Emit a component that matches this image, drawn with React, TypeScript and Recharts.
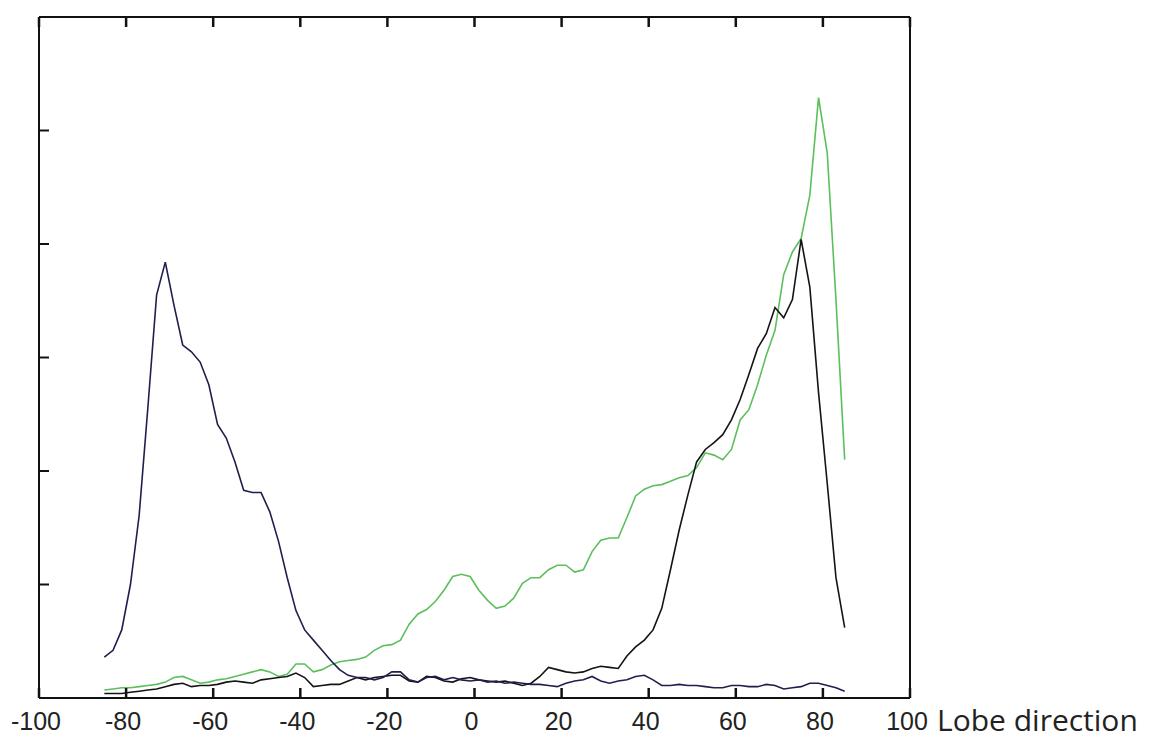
import { Line, LineChart, XAxis, YAxis } from "recharts";

// angle of the lobe, degrees
const angles = [
  -85, -83, -81, -79, -77, -75, -73, -71, -69, -67,
  -65, -63, -61, -59, -57, -55, -53, -51, -49, -47,
  -45, -43, -41, -39, -37, -35, -33, -31, -29, -27,
  -25, -23, -21, -19, -17, -15, -13, -11, -9, -7,
  -5, -3, -1, 1, 3, 5, 7, 9, 11, 13,
  15, 17, 19, 21, 23, 25, 27, 29, 31, 33,
  35, 37, 39, 41, 43, 45, 47, 49, 51, 53,
  55, 57, 59, 61, 63, 65, 67, 69, 71, 73,
  75, 77, 79, 81, 83, 85,
];

const navySeries = [
  0.36, 0.42, 0.6, 1.0, 1.61, 2.56, 3.55, 3.84, 3.46, 3.11,
  3.05, 2.96, 2.76, 2.41, 2.29, 2.08, 1.83, 1.81, 1.81, 1.64,
  1.38, 1.06, 0.77, 0.6, 0.51, 0.42, 0.33, 0.25, 0.2, 0.18,
  0.18, 0.16, 0.18, 0.23, 0.23, 0.16, 0.14, 0.18, 0.19, 0.16,
  0.18, 0.16, 0.15, 0.16, 0.14, 0.15, 0.13, 0.14, 0.13, 0.12,
  0.12, 0.11, 0.1, 0.13, 0.15, 0.16, 0.19, 0.15, 0.13, 0.15,
  0.16, 0.19, 0.2, 0.16, 0.11, 0.11, 0.12, 0.11, 0.11, 0.1,
  0.09, 0.09, 0.11, 0.11, 0.1, 0.1, 0.12, 0.11, 0.08, 0.09,
  0.1, 0.13, 0.13, 0.11, 0.09, 0.06,
];

const blackSeries = [
  0.04, 0.04, 0.04, 0.05, 0.06, 0.07, 0.08, 0.1, 0.12, 0.13,
  0.1, 0.11, 0.11, 0.12, 0.14, 0.15, 0.14, 0.13, 0.16, 0.17,
  0.18, 0.19, 0.22, 0.18, 0.1, 0.11, 0.12, 0.12, 0.15, 0.18,
  0.16, 0.18, 0.19, 0.2, 0.2, 0.15, 0.14, 0.19, 0.18, 0.15,
  0.14, 0.17, 0.18, 0.16, 0.15, 0.14, 0.15, 0.13, 0.11, 0.13,
  0.19, 0.27, 0.25, 0.23, 0.22, 0.23, 0.26, 0.28, 0.27, 0.26,
  0.37, 0.45, 0.51, 0.6, 0.79, 1.13, 1.48, 1.79, 2.08, 2.19,
  2.25, 2.32, 2.45, 2.63, 2.85, 3.08, 3.21, 3.44, 3.35, 3.51,
  4.04, 3.62, 2.69, 1.89, 1.06, 0.62,
];

const greenSeries = [
  0.07, 0.08, 0.09, 0.09, 0.1, 0.11, 0.12, 0.14, 0.18, 0.19,
  0.16, 0.13, 0.14, 0.16, 0.17, 0.19, 0.21, 0.23, 0.25, 0.23,
  0.19, 0.21, 0.3, 0.3, 0.23, 0.25, 0.29, 0.32, 0.33, 0.34,
  0.36, 0.42, 0.46, 0.47, 0.51, 0.65, 0.74, 0.78, 0.85, 0.95,
  1.07, 1.09, 1.07, 0.95, 0.86, 0.79, 0.81, 0.88, 1.01, 1.06,
  1.06, 1.13, 1.17, 1.17, 1.11, 1.13, 1.29, 1.39, 1.41, 1.41,
  1.59, 1.78, 1.84, 1.87, 1.88, 1.91, 1.94, 1.96, 2.03, 2.16,
  2.14, 2.1, 2.19, 2.45, 2.54, 2.76, 3.02, 3.24, 3.73, 3.93,
  4.05, 4.43, 5.29, 4.8, 3.51, 2.1,
];

const xTicks = [-100, -80, -60, -40, -20, 0, 20, 40, 60, 80, 100];
const yTicks = [0, 1, 2, 3, 4, 5, 6];

const data = angles.map((a, i) => ({
  angle: a,
  navy: navySeries[i],
  black: blackSeries[i],
  green: greenSeries[i],
}));

const AXIS = "#111";
const TICK_LEN = 10;

// matlab style: tick marks point into the plot box
function BottomTick(props: any) {
  const { x, y, payload } = props;
  return (
    <g>
      <line x1={x} x2={x} y1={y} y2={y - TICK_LEN} stroke={AXIS} strokeWidth={2.5} />
      <text
        x={x - 3}
        y={y + 32}
        textAnchor="middle"
        fontSize={25}
        fill="#222"
        fontFamily="'Liberation Sans', Arial, sans-serif"
      >
        {payload.value}
      </text>
    </g>
  );
}

function TopTick(props: any) {
  const { x, y } = props;
  return <line x1={x} x2={x} y1={y} y2={y + TICK_LEN} stroke={AXIS} strokeWidth={2.5} />;
}

function LeftTick(props: any) {
  const { x, y } = props;
  return <line x1={x} x2={x + TICK_LEN} y1={y} y2={y} stroke={AXIS} strokeWidth={2} />;
}

function RightTick(props: any) {
  const { x, y } = props;
  return <line x1={x} x2={x - TICK_LEN} y1={y} y2={y} stroke={AXIS} strokeWidth={2} />;
}

export default function App() {
  const axisLine = { stroke: AXIS, strokeWidth: 2 };
  return (
    <div style={{ position: "absolute", left: 0, top: 0, width: 1152, height: 742, background: "#fff" }}>
      <LineChart width={1152} height={742} data={data} margin={{ top: 16, right: 241, bottom: 0, left: 38 }}>
        <XAxis
          dataKey="angle"
          type="number"
          domain={[-100, 100]}
          ticks={xTicks}
          interval={0}
          height={44}
          tickSize={0}
          tickMargin={0}
          tickLine={false}
          axisLine={axisLine}
          tick={(p: any) => <BottomTick {...p} />}
          label={{
            value: "Lobe direction",
            position: "right",
            offset: 27,
            fill: "#222",
            fontSize: 30,
            fontFamily: "'Open Sans', sans-serif",
          }}
        />
        <XAxis
          xAxisId="top"
          orientation="top"
          dataKey="angle"
          type="number"
          domain={[-100, 100]}
          ticks={xTicks}
          interval={0}
          height={1}
          tickSize={0}
          tickMargin={0}
          tickLine={false}
          axisLine={axisLine}
          tick={(p: any) => <TopTick {...p} />}
        />
        <YAxis
          type="number"
          domain={[0, 6]}
          ticks={yTicks}
          interval={0}
          width={1}
          tickSize={0}
          tickMargin={0}
          tickLine={false}
          axisLine={axisLine}
          tick={(p: any) => <LeftTick {...p} />}
        />
        <YAxis
          yAxisId="right"
          orientation="right"
          type="number"
          domain={[0, 6]}
          ticks={yTicks}
          interval={0}
          width={1}
          tickSize={0}
          tickMargin={0}
          tickLine={false}
          axisLine={axisLine}
          tick={(p: any) => <RightTick {...p} />}
        />
        <Line dataKey="green" stroke="#5cbf5c" strokeWidth={1.6} dot={false} isAnimationActive={false} />
        <Line dataKey="black" stroke="#141414" strokeWidth={1.6} dot={false} isAnimationActive={false} />
        <Line dataKey="navy" stroke="#1f1f4f" strokeWidth={1.6} dot={false} isAnimationActive={false} />
      </LineChart>
    </div>
  );
}
